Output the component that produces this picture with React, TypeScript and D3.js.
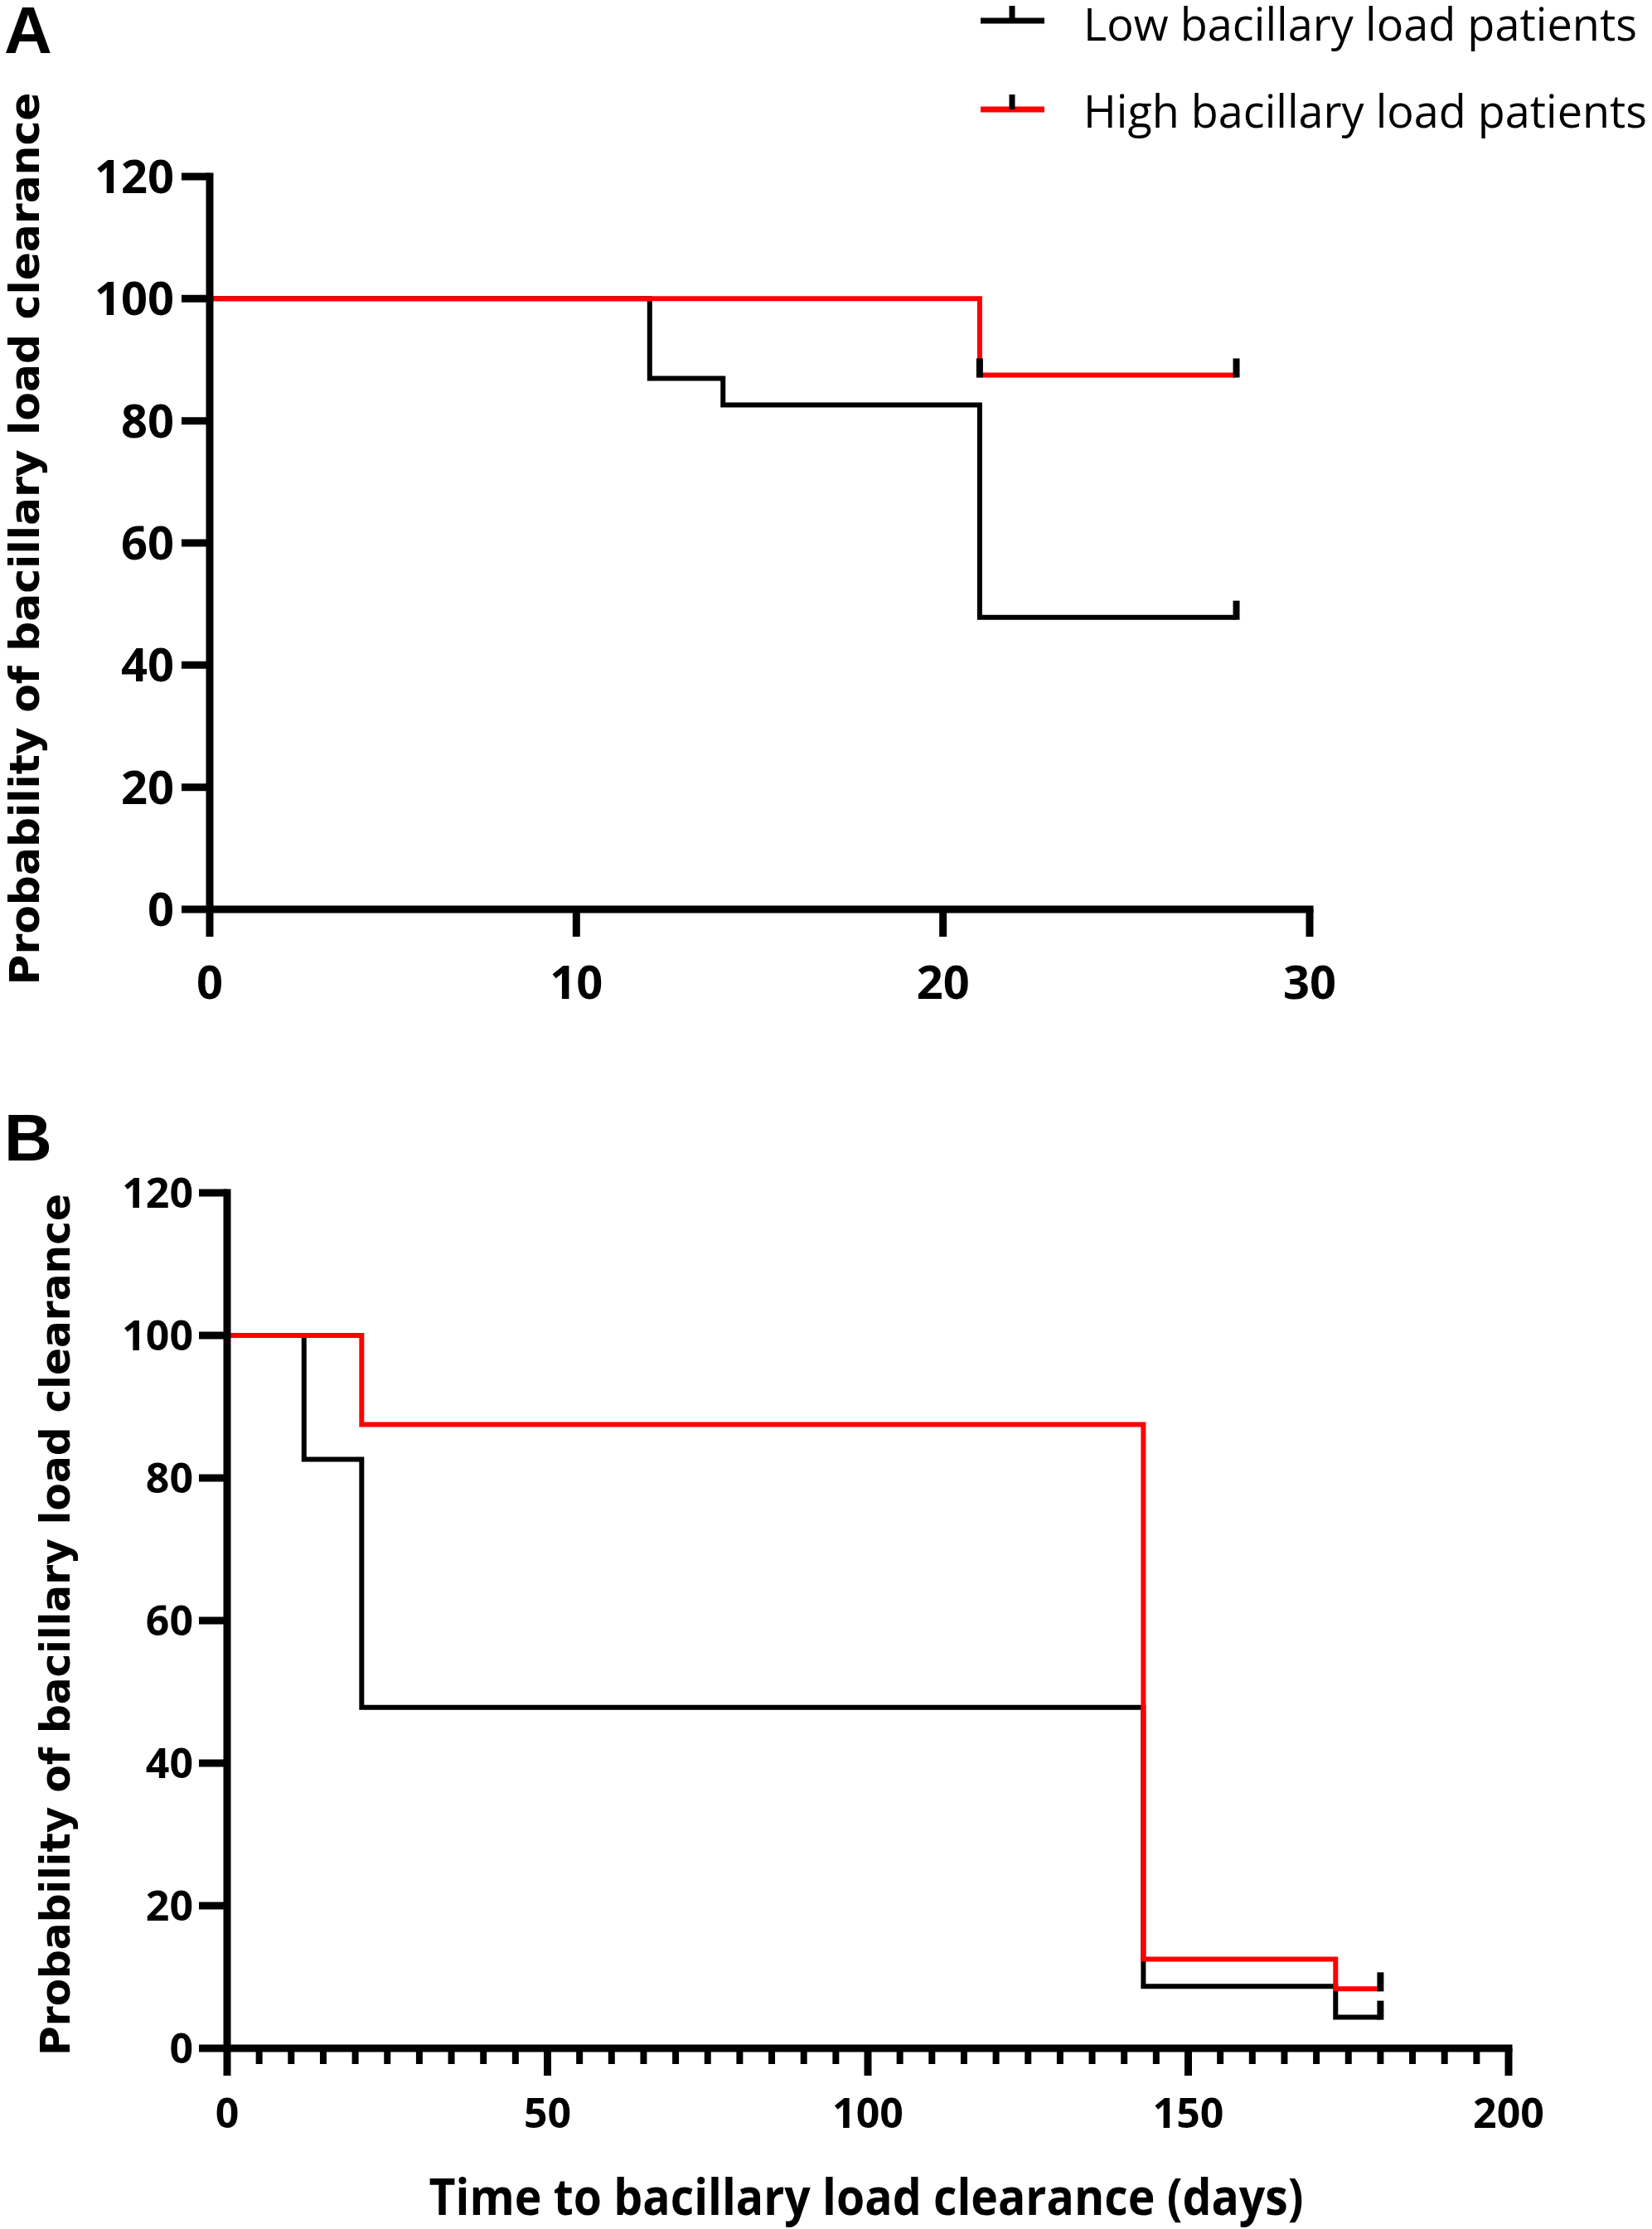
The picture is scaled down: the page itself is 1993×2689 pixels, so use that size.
import React from "react";
import * as d3 from "d3";

// ---------- data ----------
const yTickValues = [0, 20, 40, 60, 80, 100, 120];
const xTicksA = [0, 10, 20, 30];
const xTicksB = [0, 50, 100, 150, 200];

// Panel A (0-28 days)
const lowTimesA = [0, 12, 14, 21, 28];
const lowSurvA = [100, 86.96, 82.61, 47.83, 47.83];
const lowCensorA = [28];
const highTimesA = [0, 21, 28];
const highSurvA = [100, 87.5, 87.5];
const highCensorA = [21, 28];

// Panel B (0-180 days)
const lowTimesB = [0, 12, 21, 143, 173, 180];
const lowSurvB = [100, 82.61, 47.83, 8.7, 4.35, 4.35];
const lowCensorB = [180];
const highTimesB = [0, 21, 143, 173, 180];
const highSurvB = [100, 87.5, 12.5, 8.33, 8.33];
const highCensorB = [180];

const seriesNames = ["Low bacillary load patients", "High bacillary load patients"];
const seriesColors = ["#000000", "#ff0000"];

const tickFont = "'Open Sans', 'DejaVu Sans', sans-serif";

type Series = { times: number[]; surv: number[]; censor: number[]; color: string };

type PanelProps = {
  xDomain: [number, number];
  xRange: [number, number];
  yRange: [number, number];
  xTicks: number[];
  minorStep?: number;
  fontSize: number;
  yLabelX: number;
  xLabelY: number;
  series: Series[];
};

function Panel(p: PanelProps) {
  const x = d3.scaleLinear().domain(p.xDomain).range(p.xRange);
  const y = d3.scaleLinear().domain([0, 120]).range(p.yRange);
  const x0 = p.xRange[0];
  const x1 = p.xRange[1];
  const y0 = p.yRange[0];
  const y1 = p.yRange[1];
  const line = d3
    .line<[number, number]>()
    .x((d) => x(d[0]))
    .y((d) => y(d[1]))
    .curve(d3.curveStepAfter);
  const minor: number[] = p.minorStep
    ? d3.range(p.xDomain[0], p.xDomain[1] + 0.001, p.minorStep).filter((v) => !p.xTicks.includes(v))
    : [];
  return (
    <g>
      {p.series.map((s, i) => {
        const pts = s.times.map((t, k) => [t, s.surv[k]] as [number, number]);
        return (
          <path
            key={"l" + i}
            d={line(pts) || ""}
            fill="none"
            stroke={s.color}
            strokeWidth={6}
            strokeLinejoin="miter"
          />
        );
      })}
      {p.series.map((s, i) =>
        s.censor.map((c, k) => {
          let v = s.surv[0];
          s.times.forEach((t, j) => {
            if (t <= c) v = s.surv[j];
          });
          return (
            <line
              key={"c" + i + "-" + k}
              x1={x(c)}
              x2={x(c)}
              y1={y(v) + 3}
              y2={y(v) - 20}
              stroke="#000"
              strokeWidth={8}
            />
          );
        })
      )}
      {/* axes */}
      <line x1={x0} x2={x0} y1={y1 - 4.5} y2={y0 + 4.5} stroke="#000" strokeWidth={9} />
      <line x1={x0} x2={x1 + 4.5} y1={y0} y2={y0} stroke="#000" strokeWidth={9} />
      {yTickValues.map((v) => (
        <g key={"yt" + v}>
          <line x1={x0 - 34} x2={x0} y1={y(v)} y2={y(v)} stroke="#000" strokeWidth={9} />
          <text
            x={p.yLabelX}
            y={y(v) + p.fontSize * 0.36}
            textAnchor="end"
            fontFamily={tickFont}
            fontWeight="bold"
            fontSize={p.fontSize}
          >
            {v}
          </text>
        </g>
      ))}
      {p.xTicks.map((v) => (
        <g key={"xt" + v}>
          <line x1={x(v)} x2={x(v)} y1={y0} y2={y0 + 33} stroke="#000" strokeWidth={9} />
          <text
            x={x(v)}
            y={p.xLabelY}
            textAnchor="middle"
            fontFamily={tickFont}
            fontWeight="bold"
            fontSize={p.fontSize}
          >
            {v}
          </text>
        </g>
      ))}
      {minor.map((v) => (
        <line key={"mt" + v} x1={x(v)} x2={x(v)} y1={y0} y2={y0 + 19} stroke="#000" strokeWidth={8} />
      ))}
    </g>
  );
}

export default function App() {
  return (
    <svg
      width={1993}
      height={2689}
      style={{ position: "absolute", left: 0, top: 0, background: "#fff" }}
    >
      <rect x={0} y={0} width={1993} height={2689} fill="#fff" />
      {/* panel letters */}
      <text x={5} y={64} fontFamily="'Liberation Sans', Arial, sans-serif" fontWeight="bold" fontSize={80}>
        A
      </text>
      <text x={5} y={1400} fontFamily="'Liberation Sans', Arial, sans-serif" fontWeight="bold" fontSize={80}>
        B
      </text>

      {/* legend */}
      {seriesNames.map((name, i) => {
        const ly = i === 0 ? 25 : 132;
        return (
          <g key={"lg" + i}>
            <line x1={1183} x2={1260} y1={ly} y2={ly} stroke={seriesColors[i]} strokeWidth={7} />
            <line x1={1221} x2={1221} y1={ly - 18} y2={ly} stroke="#000" strokeWidth={7} />
            <text
              x={1307}
              y={i === 0 ? 49 : 154}
              fontFamily="'Open Sans', sans-serif"
              fontSize={54}
              textLength={i === 0 ? 668 : 680}
              lengthAdjust="spacingAndGlyphs"
            >
              {name}
            </text>
          </g>
        );
      })}

      {/* y titles */}
      <text
        transform="translate(47,650) rotate(-90)"
        textAnchor="middle"
        fontFamily="'DejaVu Sans', Verdana, sans-serif"
        fontWeight="bold"
        fontSize={50}
        textLength={1077}
        lengthAdjust="spacingAndGlyphs"
      >
        Probability of bacillary load clearance
      </text>
      <text
        transform="translate(84,1960) rotate(-90)"
        textAnchor="middle"
        fontFamily="'DejaVu Sans', Verdana, sans-serif"
        fontWeight="bold"
        fontSize={50}
        textLength={1040}
        lengthAdjust="spacingAndGlyphs"
      >
        Probability of bacillary load clearance
      </text>

      <Panel
        xDomain={[0, 30]}
        xRange={[253, 1580]}
        yRange={[1097, 213]}
        xTicks={xTicksA}
        fontSize={56}
        yLabelX={210}
        xLabelY={1205}
        series={[
          { times: lowTimesA, surv: lowSurvA, censor: lowCensorA, color: seriesColors[0] },
          { times: highTimesA, surv: highSurvA, censor: highCensorA, color: seriesColors[1] },
        ]}
      />
      <Panel
        xDomain={[0, 200]}
        xRange={[274, 1820]}
        yRange={[2471, 1439]}
        xTicks={xTicksB}
        minorStep={5}
        fontSize={50}
        yLabelX={233}
        xLabelY={2567}
        series={[
          { times: lowTimesB, surv: lowSurvB, censor: lowCensorB, color: seriesColors[0] },
          { times: highTimesB, surv: highSurvB, censor: highCensorB, color: seriesColors[1] },
        ]}
      />

      <text
        x={1045}
        y={2672}
        textAnchor="middle"
        fontFamily="'Open Sans', sans-serif"
        fontWeight="bold"
        fontSize={60}
        textLength={1055}
        lengthAdjust="spacingAndGlyphs"
      >
        Time to bacillary load clearance (days)
      </text>
    </svg>
  );
}
